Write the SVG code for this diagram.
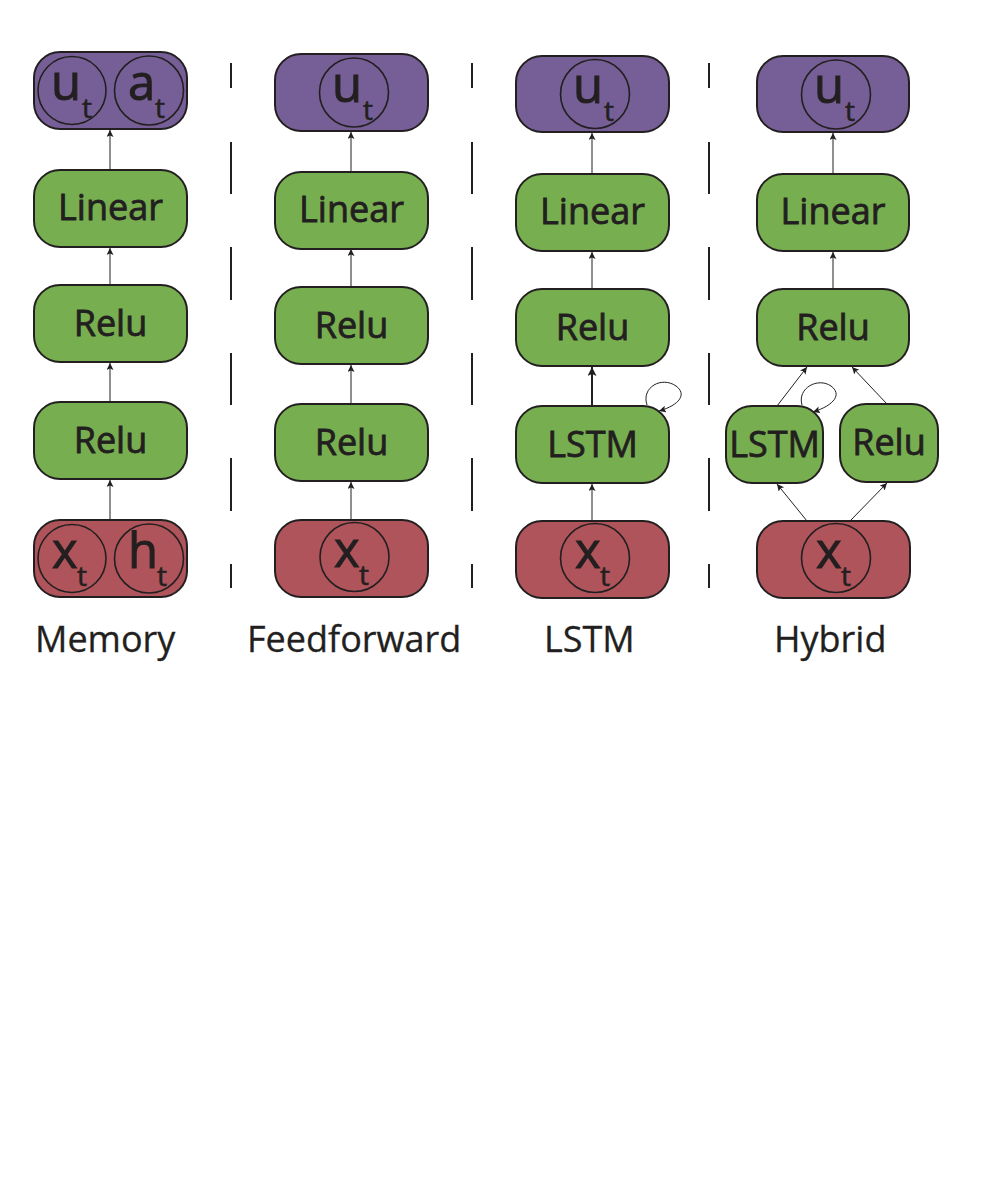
<svg xmlns="http://www.w3.org/2000/svg" width="990" height="1200" viewBox="0 0 990 1200">
<style>
.box{stroke:#231f20;stroke-width:2}
.p{fill:#765f96}.g{fill:#77af50}.r{fill:#af545a}
.c{fill:none;stroke:#231f20;stroke-width:1.6}
.t{font-family:'Open Sans',sans-serif;fill:#231f20;font-size:36px;stroke:#231f20;stroke-width:0.8}
.m{font-family:'Open Sans',sans-serif;fill:#231f20;font-size:49px;stroke:#231f20;stroke-width:1}
.s{font-family:'Open Sans',sans-serif;fill:#231f20;font-size:28px;stroke:#231f20;stroke-width:0.6}
.lbl{font-family:'Open Sans',sans-serif;fill:#231f20;font-size:36px;stroke:#231f20;stroke-width:0.3}
.a{stroke:#231f20;stroke-width:1;fill:none;marker-end:url(#ah)}
.a2{stroke:#231f20;stroke-width:2;fill:none;marker-end:url(#ah2)}
.dash{stroke:#231f20;stroke-width:2;fill:none}
</style>
<defs>
<marker id="ah" markerUnits="userSpaceOnUse" markerWidth="8" markerHeight="8" refX="7" refY="3.5" orient="auto"><path d="M0,0 L7,3.5 L0,7 L1.5,3.5 Z" fill="#231f20"/></marker>
<marker id="ah2" markerUnits="userSpaceOnUse" markerWidth="10" markerHeight="10" refX="9" refY="4.5" orient="auto"><path d="M0,0 L9,4.5 L0,9 L2,4.5 Z" fill="#231f20"/></marker>
</defs>
<rect width="990" height="1200" fill="#fff"/>

<g id="separators">
<path class="dash" d="M231,63V88M231,142V194M231,247V300M231,353V405M231,458V511M231,564V588"/>
<path class="dash" d="M472,63V88M472,142V194M472,247V300M472,353V405M472,458V511M472,564V588"/>
<path class="dash" d="M709,63V88M709,142V194M709,247V300M709,353V405M709,458V511M709,564V588"/>
</g>

<g id="connectors">
<line class="a" x1="110" y1="520" x2="110" y2="480"/>
<line class="a" x1="110" y1="402" x2="110" y2="363"/>
<line class="a" x1="110" y1="285" x2="110" y2="248"/>
<line class="a" x1="110" y1="170" x2="110" y2="130"/>
<line class="a" x1="351" y1="520" x2="351" y2="482"/>
<line class="a" x1="351" y1="404" x2="351" y2="365"/>
<line class="a" x1="351" y1="287" x2="351" y2="249"/>
<line class="a" x1="351" y1="172" x2="351" y2="132"/>
<line class="a" x1="592" y1="521" x2="592" y2="484"/>
<line class="a2" x1="592" y1="406" x2="592" y2="367"/>
<line class="a" x1="592" y1="289" x2="592" y2="252"/>
<line class="a" x1="592" y1="174" x2="592" y2="133"/>
<path class="a" d="M647,405 C641,387 662,376 676,386 C687,394 680,405 659,411"/>
<line class="a" x1="833" y1="289" x2="833" y2="252"/>
<line class="a" x1="833" y1="174" x2="833" y2="133"/>
<line class="a" x1="807" y1="521" x2="777" y2="484"/>
<line class="a" x1="850" y1="521" x2="887" y2="483"/>
<line class="a" x1="777" y1="406" x2="807" y2="367"/>
<line class="a" x1="887" y1="404" x2="852" y2="367"/>
<path class="a" d="M802,405 C797,388 818,377 831,386 C842,394 835,405 813,412"/>
</g>

<g id="memory-out">
<rect class="box p" x="34" y="52" width="153" height="77" rx="26"/>
<circle class="c" cx="72" cy="90.5" r="34"/>
<circle class="c" cx="149" cy="90.5" r="34.5"/>
<text class="m" x="51" y="100">u</text><text class="s" x="82" y="118">t</text>
<text class="m" x="128" y="100">a</text><text class="s" x="155" y="118">t</text>
</g>
<g id="memory-linear"><rect class="box g" x="34" y="170" width="153" height="77" rx="26"/><text class="t" x="110.5" y="220" text-anchor="middle">Linear</text></g>
<g id="memory-relu1"><rect class="box g" x="34" y="285" width="153" height="77" rx="26"/><text class="t" x="110.5" y="336" text-anchor="middle">Relu</text></g>
<g id="memory-relu2"><rect class="box g" x="34" y="402" width="153" height="77" rx="26"/><text class="t" x="110.5" y="453" text-anchor="middle">Relu</text></g>
<g id="memory-in">
<rect class="box r" x="34" y="520" width="153" height="77" rx="26"/>
<circle class="c" cx="72" cy="558.5" r="34"/>
<circle class="c" cx="149" cy="558.5" r="34.5"/>
<text class="m" x="52" y="568">x</text><text class="s" x="77" y="586">t</text>
<text class="m" x="128" y="568">h</text><text class="s" x="157" y="586">t</text>
</g>

<g id="ff-out">
<rect class="box p" x="275" y="54" width="153" height="77" rx="26"/>
<circle class="c" cx="354" cy="92.5" r="34.5"/>
<text class="m" x="332" y="102">u</text><text class="s" x="363" y="120">t</text>
</g>
<g id="ff-linear"><rect class="box g" x="275" y="172" width="153" height="77" rx="26"/><text class="t" x="351.5" y="222" text-anchor="middle">Linear</text></g>
<g id="ff-relu1"><rect class="box g" x="275" y="287" width="153" height="77" rx="26"/><text class="t" x="351.5" y="338" text-anchor="middle">Relu</text></g>
<g id="ff-relu2"><rect class="box g" x="275" y="404" width="153" height="77" rx="26"/><text class="t" x="351.5" y="455" text-anchor="middle">Relu</text></g>
<g id="ff-in">
<rect class="box r" x="275" y="520" width="153" height="77" rx="26"/>
<circle class="c" cx="354.5" cy="557" r="34.5"/>
<text class="m" x="334" y="567">x</text><text class="s" x="359" y="585">t</text>
</g>

<g id="lstm-out">
<rect class="box p" x="516" y="56" width="153" height="76" rx="26"/>
<circle class="c" cx="595" cy="94" r="34.5"/>
<text class="m" x="573" y="103">u</text><text class="s" x="604" y="121">t</text>
</g>
<g id="lstm-linear"><rect class="box g" x="516" y="174" width="153" height="77" rx="26"/><text class="t" x="592.5" y="224" text-anchor="middle">Linear</text></g>
<g id="lstm-relu"><rect class="box g" x="516" y="289" width="153" height="77" rx="26"/><text class="t" x="592.5" y="340" text-anchor="middle">Relu</text></g>
<g id="lstm-lstm"><rect class="box g" x="516" y="406" width="153" height="77" rx="26"/><text class="t" x="592.5" y="457" text-anchor="middle">LSTM</text></g>
<g id="lstm-in">
<rect class="box r" x="516" y="521" width="153" height="77" rx="26"/>
<circle class="c" cx="595" cy="558" r="34.5"/>
<text class="m" x="575" y="568">x</text><text class="s" x="600" y="586">t</text>
</g>

<g id="hybrid-out">
<rect class="box p" x="757" y="56" width="152" height="76" rx="26"/>
<circle class="c" cx="836" cy="94.5" r="34.5"/>
<text class="m" x="814" y="103">u</text><text class="s" x="845" y="121">t</text>
</g>
<g id="hybrid-linear"><rect class="box g" x="757" y="174" width="152" height="77" rx="26"/><text class="t" x="833" y="224" text-anchor="middle">Linear</text></g>
<g id="hybrid-relu"><rect class="box g" x="757" y="289" width="152" height="77" rx="26"/><text class="t" x="833" y="340" text-anchor="middle">Relu</text></g>
<g id="hybrid-lstm"><rect class="box g" x="726" y="406" width="97" height="77" rx="26"/><text class="t" x="774.5" y="457" text-anchor="middle">LSTM</text></g>
<g id="hybrid-relu2"><rect class="box g" x="840" y="404" width="98" height="78" rx="26"/><text class="t" x="889" y="455" text-anchor="middle">Relu</text></g>
<g id="hybrid-in">
<rect class="box r" x="757" y="521" width="153" height="77" rx="26"/>
<circle class="c" cx="836" cy="558" r="34.5"/>
<text class="m" x="816" y="568">x</text><text class="s" x="841" y="586">t</text>
</g>

<g id="labels">
<text class="lbl" x="35" y="652">Memory</text>
<text class="lbl" x="247" y="652">Feedforward</text>
<text class="lbl" x="544" y="652">LSTM</text>
<text class="lbl" x="774" y="652">Hybrid</text>
</g>
</svg>
